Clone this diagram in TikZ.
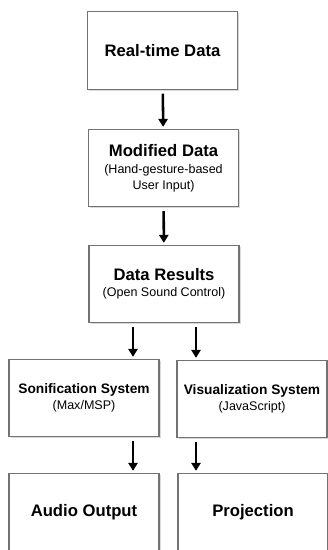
\documentclass[tikz,border=0pt]{standalone}
\usepackage{fontspec}
\setmainfont{Liberation Sans}
\usetikzlibrary{shadows,arrows.meta}

\newcommand{\boxtitle}[1]{{\fontsize{12.5}{15}\selectfont\bfseries #1}}
\newcommand{\smalltitle}[1]{{\fontsize{10.3}{13}\selectfont\bfseries #1}}
\newcommand{\boxnote}[1]{{\fontsize{9.4}{10.5}\selectfont #1}}

\begin{document}
\begin{tikzpicture}[x=0.75pt, y=0.75pt,
                stage/.style={rectangle, draw=black!55, line width=0.8pt, fill=white,
                    minimum width=112.5pt, minimum height=58pt, align=center, inner sep=2pt,
                    drop shadow={opacity=0.3, shadow xshift=1.2pt, shadow yshift=-1.2pt}},
                flow/.style={draw=black, line width=1.9pt, -{Triangle[length=6pt, width=7pt]}, shorten <=3pt, shorten >=1.5pt}]
                \useasboundingbox (0,0) rectangle (328,-550);
                \clip (0,0) rectangle (328,-550);
                \node[stage] (rt) at (162.5,-50.5) {\boxtitle{Real-time Data}};
                \node[stage] (mod) at (163.5,-168) {\boxtitle{Modified Data}\\[1pt]\boxnote{(Hand-gesture-based}\\\boxnote{User Input)}};
                \node[stage] (res) at (164,-284) {\boxtitle{Data Results}\\\boxnote{(Open Sound Control)}};
                \node[stage] (son) at (84,-398) {\smalltitle{Sonification System}\\\boxnote{(Max/MSP)}};
                \node[stage] (vis) at (252,-399) {\smalltitle{Visualization System}\\\boxnote{(JavaScript)}};
                \node[stage] (aud) at (84,-512) {\boxtitle{Audio Output}};
                \node[stage] (proj) at (253,-512) {\boxtitle{Projection}};
                \coordinate (left lane) at (133,0);
                \coordinate (right lane) at (196,0);
                \draw[flow] (rt) -- (mod);
                \draw[flow] (mod) -- (res);
                \draw[flow] (res.south -| left lane) -- (son.north -| left lane);
                \draw[flow] (res.south -| right lane) -- (vis.north -| right lane);
                \draw[flow] (son.south -| left lane) -- (aud.north -| left lane);
                \draw[flow] (vis.south -| right lane) -- (proj.north -| right lane);
            \end{tikzpicture}
\end{document}
